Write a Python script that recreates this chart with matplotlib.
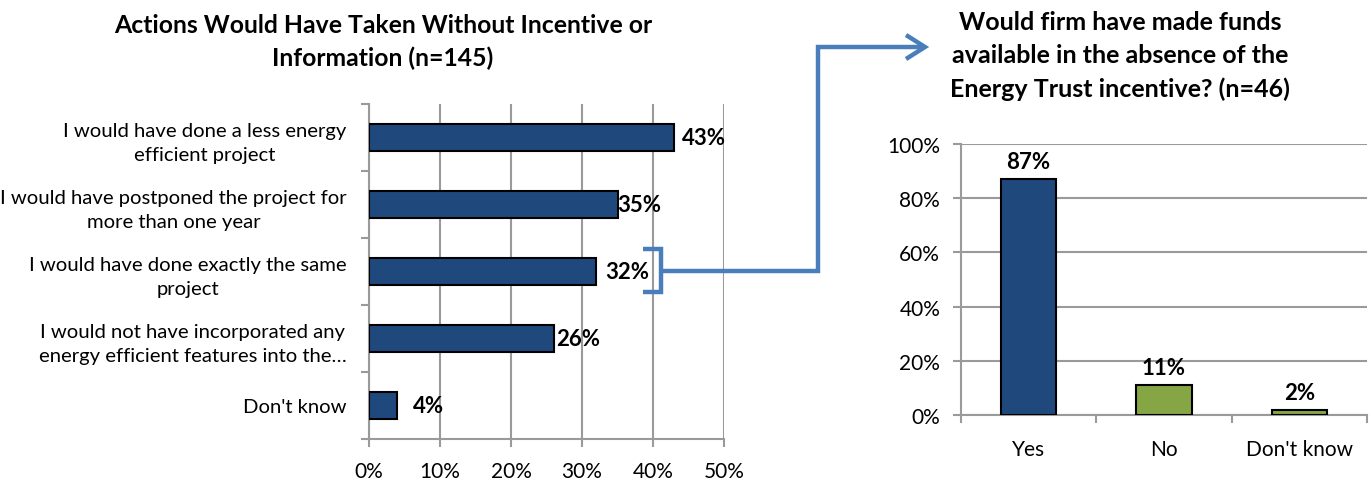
import matplotlib
matplotlib.use("Agg")
import matplotlib.pyplot as plt
from matplotlib.lines import Line2D
from matplotlib.ticker import PercentFormatter

plt.rcParams['font.family'] = ['Lato', 'DejaVu Sans']

# left chart data
actions = ["I would have done a less energy\nefficient project",
           "I would have postponed the project for\nmore than one year",
           "I would have done exactly the same\nproject",
           "I would not have incorporated any\nenergy efficient features into the\u2026",
           "Don't know"]
action_pct = [43, 35, 32, 26, 4]
label_gap = [8, 0, 9, 3, 16]   # px between bar end and label, as in the original

# right chart data
funds = ["Yes", "No", "Don't know"]
funds_pct = [87, 11, 2]

BLUE = "#1F497D"
GREEN = "#86A544"
GRID = "#9A9A9A"
ARROW = "#4A7EBB"

W, H = 1372, 481
fig = plt.figure(figsize=(W / 100, H / 100), dpi=100)

def px_box(x0, y0, x1, y1):
    return [x0 / W, 1 - y1 / H, (x1 - x0) / W, (y1 - y0) / H]

# ---------- left: horizontal bars ----------
ax1 = fig.add_axes(px_box(369, 105, 724, 440))
ypos = list(range(len(actions)))
ax1.barh(ypos, action_pct, height=0.4, color=BLUE, edgecolor="black", linewidth=1.5, zorder=3)
ax1.set_ylim(len(actions) - 0.5, -0.5)
ax1.set_xlim(0, 50)
ax1.set_xticks(range(0, 51, 10))
ax1.xaxis.set_major_formatter(PercentFormatter(decimals=0))
ax1.set_yticks(ypos)
ax1.set_yticklabels(actions, fontsize=14.6, ha="right", multialignment="center", linespacing=1.5)
ax1.set_yticks([i - 0.5 for i in range(len(actions) + 1)], minor=True)
ax1.tick_params(axis="y", which="major", length=0, pad=16)
ax1.tick_params(axis="y", which="minor", length=6, width=1.5, color=GRID)
ax1.tick_params(axis="x", length=6, width=1.5, color=GRID, labelsize=15, pad=10)
ax1.grid(axis="x", color=GRID, linewidth=1.5, zorder=0)
for s in ["top", "right"]:
    ax1.spines[s].set_visible(False)
for s in ["left", "bottom"]:
    ax1.spines[s].set_color(GRID)
    ax1.spines[s].set_linewidth(1.5)
for y, v, g in zip(ypos, action_pct, label_gap):
    ax1.annotate(f"{v}%", (v, y), xytext=(g * 0.72, 0), textcoords="offset points",
                 ha="left", va="center", fontsize=16, fontweight="bold")
fig.text(383 / W, 1 - 42 / H, "Actions Would Have Taken Without Incentive or\nInformation (n=145)",
         ha="center", va="center", fontsize=17.8, fontweight="bold", linespacing=1.45)

# ---------- right: vertical bars ----------
ax2 = fig.add_axes(px_box(961, 145, 1367, 416))
xpos = list(range(len(funds)))
ax2.bar(xpos, funds_pct, width=0.41, color=[BLUE, GREEN, GREEN], edgecolor="black",
        linewidth=1.5, zorder=3)
ax2.set_xlim(-0.5, len(funds) - 0.5)
ax2.set_ylim(0, 100)
ax2.set_yticks(range(0, 101, 20))
ax2.yaxis.set_major_formatter(PercentFormatter(decimals=0))
ax2.set_xticks(xpos)
ax2.set_xticklabels(funds, fontsize=15)
ax2.set_xticks([i - 0.5 for i in range(len(funds) + 1)], minor=True)
ax2.tick_params(axis="x", which="major", length=0, pad=17)
ax2.tick_params(axis="x", which="minor", length=6, width=1.5, color=GRID)
ax2.tick_params(axis="y", length=6, width=1.5, color=GRID, labelsize=15, pad=9)
ax2.grid(axis="y", color=GRID, linewidth=1.5, zorder=0)
for s in ["top", "right"]:
    ax2.spines[s].set_visible(False)
for s in ["left", "bottom"]:
    ax2.spines[s].set_color(GRID)
    ax2.spines[s].set_linewidth(1.5)
for x, v in zip(xpos, funds_pct):
    ax2.annotate(f"{v}%", (x, v), xytext=(0, 5), textcoords="offset points",
                 ha="center", va="bottom", fontsize=16, fontweight="bold")
fig.text(1120 / W, 1 - 56 / H,
         "Would firm have made funds\navailable in the absence of the\nEnergy Trust incentive? (n=46)",
         ha="center", va="center", fontsize=18, fontweight="bold", linespacing=1.52)

# ---------- connector bracket and arrow ----------
def fig_line(xs, ys, **kw):
    fig.add_artist(Line2D([x / W for x in xs], [1 - y / H for y in ys],
                          transform=fig.transFigure, color=ARROW, linewidth=3.2,
                          solid_joinstyle="miter", solid_capstyle="butt", **kw))

fig_line([643, 661, 661, 643], [250, 250, 293, 293])
fig_line([661, 818, 818, 924], [272, 272, 48, 48])
fig_line([906, 925, 906], [36, 48, 60])

fig.savefig("out.png", dpi=100)
